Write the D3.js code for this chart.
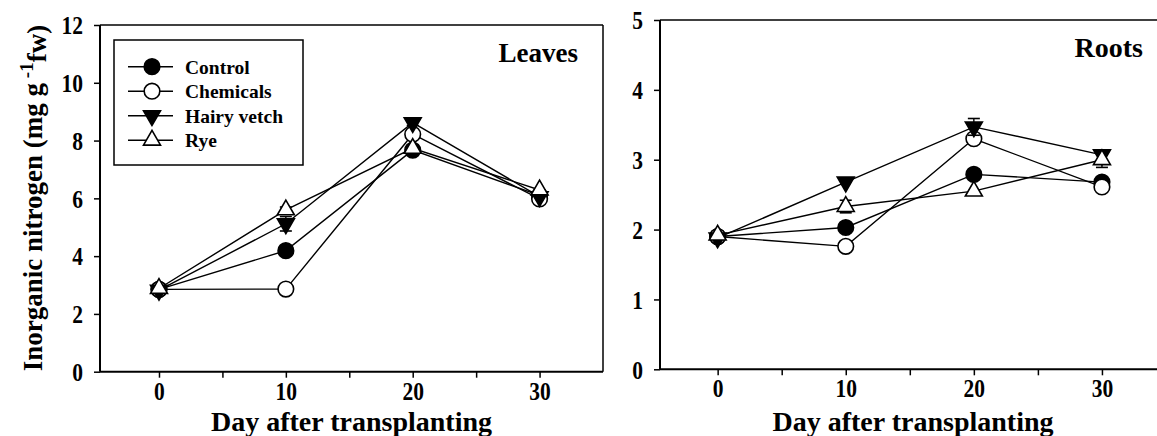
<!DOCTYPE html>
<html>
<head>
<meta charset="utf-8">
<script src="https://cdn.jsdelivr.net/npm/d3@7"></script>
<style>
  html, body { margin: 0; padding: 0; background: #fff; }
  svg { display: block; }
  text { font-family: "Liberation Serif", "Times New Roman", serif; font-weight: bold; fill: #000; }
</style>
</head>
<body>
<svg id="chart" width="1157" height="436"></svg>
<script>
// ---------------- data ----------------
const days = [0, 10, 20, 30];
const seriesNames = ["Control", "Chemicals", "Hairy vetch", "Rye"];
const xTickValues = [0, 5, 10, 15, 20, 25, 30];
const leavesYTicks = [0, 2, 4, 6, 8, 10, 12];
const rootsYTicks = [0, 1, 2, 3, 4, 5];

// Leaves (mg g-1 fw)
const leavesControl   = [2.85, 4.19, 7.67, 6.10];
const leavesChemicals = [2.85, 2.86, 8.22, 5.98];
const leavesVetch     = [2.82, 5.12, 8.62, 6.06];
const leavesRye       = [2.88, 5.60, 7.73, 6.29];
const leavesVetchErr  = [0, 0.25, 0.10, 0];
const leavesRyeErr    = [0, 0.10, 0, 0];

// Roots (mg g-1 fw)
const rootsControl   = [1.90, 2.03, 2.79, 2.68];
const rootsChemicals = [1.90, 1.76, 3.30, 2.61];
const rootsVetch     = [1.88, 2.68, 3.47, 3.07];
const rootsRye       = [1.92, 2.33, 2.55, 3.00];
const rootsVetchErr  = [0, 0, 0.12, 0];
const rootsRyeErr    = [0, 0.09, 0, 0.11];

// ---------------- drawing ----------------
const svg = d3.select("#chart");
const markerTypes = ["circleFilled", "circleOpen", "triDown", "triUp"];
const triPath = d3.symbol().type(d3.symbolTriangle).size(125)();
const tickStretch = 1.2;

function drawMarker(g, type, cx, cy) {
  if (type === "circleFilled" || type === "circleOpen") {
    g.append("circle").attr("cx", cx).attr("cy", cy).attr("r", 7.8)
      .attr("fill", type === "circleFilled" ? "#000" : "#fff")
      .attr("stroke", "#000").attr("stroke-width", 1.6);
  } else {
    const rot = type === "triDown" ? 180 : 0;
    g.append("path").attr("d", triPath)
      .attr("transform", `translate(${cx},${cy}) rotate(${rot})`)
      .attr("fill", type === "triDown" ? "#000" : "#fff")
      .attr("stroke", "#000").attr("stroke-width", 1.6);
  }
}

function drawPanel(p) {
  const x = d3.scaleLinear().domain(p.xDomain).range([p.left, p.right]);
  const y = d3.scaleLinear().domain(p.yDomain).range([p.bottom, p.top]);
  const g = svg.append("g");

  // frame (top & right)
  g.append("line").attr("x1", p.left).attr("x2", p.right).attr("y1", p.top).attr("y2", p.top)
    .attr("stroke", "#000").attr("stroke-width", 1.5);
  g.append("line").attr("x1", p.right).attr("x2", p.right).attr("y1", p.top).attr("y2", p.bottom)
    .attr("stroke", "#000").attr("stroke-width", 1.5);

  // axes
  const xAxis = d3.axisBottom(x).tickValues(xTickValues)
    .tickFormat(d => d % 10 === 0 ? d : "").tickSize(6).tickSizeOuter(0);
  const gx = g.append("g").attr("transform", `translate(0,${p.bottom})`).call(xAxis);
  const yAxis = d3.axisLeft(y).tickValues(p.yTicks).tickFormat(d3.format("d"))
    .tickSize(6).tickSizeOuter(0).tickPadding(11);
  const gy = g.append("g").attr("transform", `translate(${p.left},0)`).call(yAxis);
  [gx, gy].forEach(a => {
    a.select(".domain").attr("stroke", "#000").attr("stroke-width", 2);
    a.selectAll(".tick line").attr("stroke", "#000").attr("stroke-width", 1.5);
    a.selectAll(".tick text").style("font-family", '"Liberation Serif", serif')
      .style("font-weight", "bold").style("font-size", "21.5px").attr("fill", "#000")
      .attr("transform", `scale(1,${tickStretch})`);
  });
  gx.select(".domain").attr("d", `M${p.left},0H${p.right}`);
  gy.select(".domain").attr("d", `M0,${p.bottom}V${p.top}`);
  gx.selectAll(".tick text").attr("y", 28 / tickStretch).attr("dy", 0);
  gy.selectAll(".tick text").attr("dy", "0.34em");

  // x title
  g.append("text").attr("x", (p.left + Math.min(p.right, 1170)) / 2).attr("y", 431)
    .attr("text-anchor", "middle").style("font-size", "28px").text("Day after transplanting");

  // panel label
  g.append("text").attr("x", p.labelX).attr("y", p.labelY).attr("text-anchor", "end")
    .style("font-size", p.labelSize).text(p.label);

  // series
  p.series.forEach((vals, i) => {
    const sg = g.append("g");
    const line = d3.line().x((d, j) => x(days[j])).y(d => y(d));
    sg.append("path").datum(vals).attr("d", line).attr("fill", "none")
      .attr("stroke", "#000").attr("stroke-width", 1.4);
    const errs = p.errors[i];
    if (errs) {
      vals.forEach((v, j) => {
        if (errs[j] > 0) {
          const xx = x(days[j]);
          sg.append("line").attr("x1", xx).attr("x2", xx)
            .attr("y1", y(v - errs[j])).attr("y2", y(v + errs[j]))
            .attr("stroke", "#000").attr("stroke-width", 1.4);
          [v - errs[j], v + errs[j]].forEach(e => {
            sg.append("line").attr("x1", xx - 6).attr("x2", xx + 6)
              .attr("y1", y(e)).attr("y2", y(e))
              .attr("stroke", "#000").attr("stroke-width", 1.6);
          });
        }
      });
    }
    vals.forEach((v, j) => drawMarker(sg, markerTypes[i], x(days[j]), y(v)));
  });
}

// Left panel: Leaves
drawPanel({
  left: 100, right: 603, top: 25, bottom: 371.7,
  xDomain: [-4.65, 35], yDomain: [0, 12], yTicks: leavesYTicks,
  label: "Leaves", labelX: 578, labelY: 62, labelSize: "27px",
  series: [leavesControl, leavesChemicals, leavesVetch, leavesRye],
  errors: [null, null, leavesVetchErr, leavesRyeErr]
});

// Right panel: Roots
drawPanel({
  left: 660, right: 1166, top: 20, bottom: 369.3,
  xDomain: [-4.5, 35], yDomain: [0, 5], yTicks: rootsYTicks,
  label: "Roots", labelX: 1143, labelY: 57, labelSize: "28px",
  series: [rootsControl, rootsChemicals, rootsVetch, rootsRye],
  errors: [null, null, rootsVetchErr, rootsRyeErr]
});

// Y axis title (left panel)
const yTitle = svg.append("text")
  .attr("transform", "translate(42,198) rotate(-90)")
  .attr("text-anchor", "middle").style("font-size", "27px");
yTitle.append("tspan").text("Inorganic nitrogen (mg g");
yTitle.append("tspan").attr("dy", "-0.45em").style("font-size", "19px").text(" -1");
yTitle.append("tspan").attr("dy", "0.45em").text("fw)");

// Legend
const legend = svg.append("g");
legend.append("rect").attr("x", 114).attr("y", 40).attr("width", 189).attr("height", 125)
  .attr("fill", "#fff").attr("stroke", "#000").attr("stroke-width", 1.5);
seriesNames.forEach((name, i) => {
  const cy = 66.7 + i * 24.5;
  const lg = legend.append("g");
  lg.append("line").attr("x1", 128).attr("x2", 173).attr("y1", cy).attr("y2", cy)
    .attr("stroke", "#000").attr("stroke-width", 1.5);
  drawMarker(lg, markerTypes[i], 152, cy);
  lg.append("text").attr("x", 185).attr("y", cy + 7).style("font-size", "19.5px").text(name);
});
</script>
</body>
</html>
